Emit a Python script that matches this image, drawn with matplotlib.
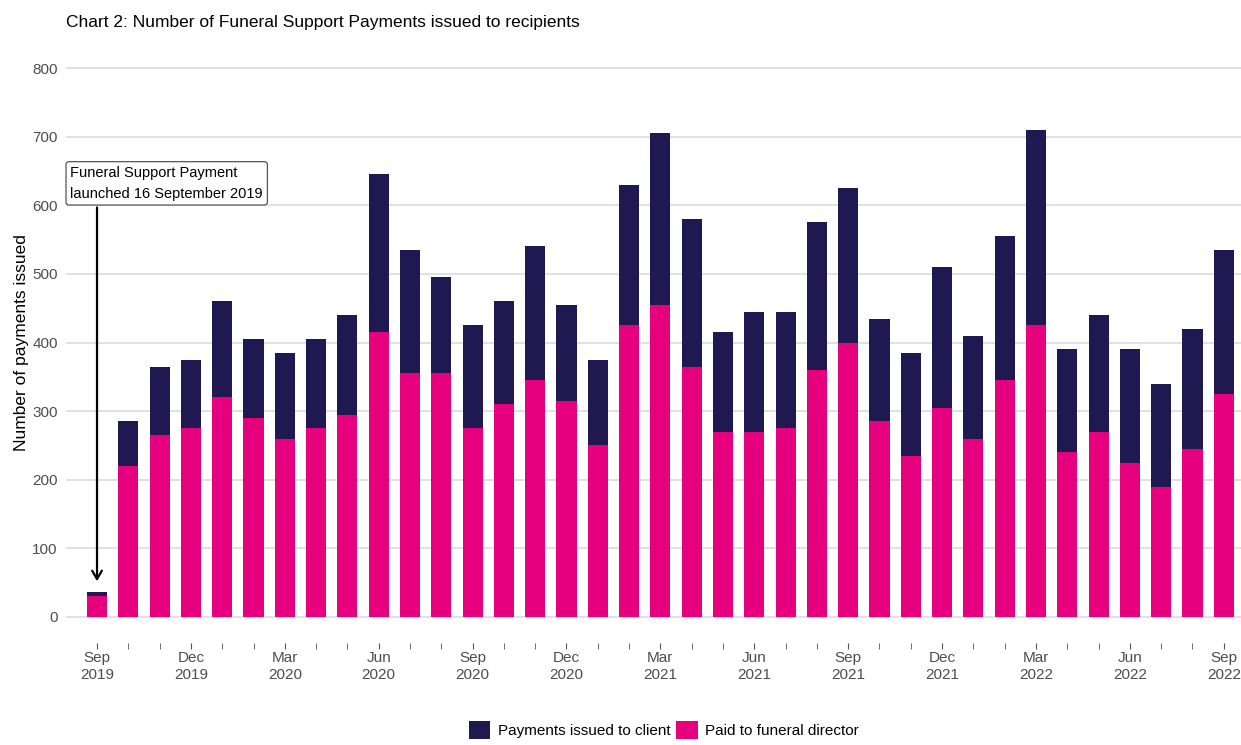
import matplotlib
matplotlib.use("Agg")
import matplotlib.pyplot as plt
import numpy as np

plt.rcParams['font.family'] = ['Liberation Sans', 'DejaVu Sans']

# monthly data, Sep 2019 .. Sep 2022
months = ["Sep 2019", "Oct 2019", "Nov 2019", "Dec 2019", "Jan 2020", "Feb 2020",
          "Mar 2020", "Apr 2020", "May 2020", "Jun 2020", "Jul 2020", "Aug 2020",
          "Sep 2020", "Oct 2020", "Nov 2020", "Dec 2020", "Jan 2021", "Feb 2021",
          "Mar 2021", "Apr 2021", "May 2021", "Jun 2021", "Jul 2021", "Aug 2021",
          "Sep 2021", "Oct 2021", "Nov 2021", "Dec 2021", "Jan 2022", "Feb 2022",
          "Mar 2022", "Apr 2022", "May 2022", "Jun 2022", "Jul 2022", "Aug 2022",
          "Sep 2022"]
funeral_director = [31, 220, 265, 275, 320, 290, 260, 275, 295, 415, 355, 355,
                    275, 310, 345, 315, 250, 425, 455, 365, 270, 270, 275, 360,
                    400, 285, 235, 305, 260, 345, 425, 240, 270, 225, 190, 245, 325]
total = [36, 285, 365, 375, 460, 405, 385, 405, 440, 645, 535, 495,
         425, 460, 540, 455, 375, 630, 705, 580, 415, 445, 445, 575,
         625, 435, 385, 510, 410, 555, 710, 390, 440, 390, 340, 420, 535]
client = [t - f for t, f in zip(total, funeral_director)]

navy = "#201850"
pink = "#E6007E"

fig = plt.figure(figsize=(12.41, 7.45), dpi=100)
ax = fig.add_axes([0.0532, 0.1369, 0.9468, 0.8067])

x = np.arange(len(months))
ax.bar(x, funeral_director, width=0.64, color=pink, label="Paid to funeral director", zorder=3)
ax.bar(x, client, width=0.64, bottom=funeral_director, color=navy,
       label="Payments issued to client", zorder=3)

ax.set_ylim(-38, 838)
ax.set_xlim(-0.99, 36.55)
ax.set_yticks(range(0, 801, 100))
ax.yaxis.grid(True, color="#D9D9D9", linewidth=1.1, zorder=0)
ax.set_axisbelow(True)
for s in ax.spines.values():
    s.set_visible(False)

major = list(range(0, len(months), 3))
ax.set_xticks(major)
ax.set_xticklabels([months[i].replace(" ", "\n") for i in major])
ax.set_xticks(x, minor=True)
ax.tick_params(axis="x", which="both", length=4, color="#555555", labelsize=11,
               labelcolor="#4D4D4D", pad=2)
ax.tick_params(axis="y", length=0, labelsize=11, labelcolor="#4D4D4D", pad=6)
ax.set_ylabel("Number of payments issued", fontsize=12.5, labelpad=2)

ax.text(-0.85, 632, "Funeral Support Payment\nlaunched 16 September 2019", fontsize=10.5,
        ha="left", va="center", linespacing=1.6,
        bbox=dict(boxstyle="round,pad=0.3,rounding_size=0.2", fc="white", ec="#555555", lw=0.9),
        zorder=5)
ax.annotate("", xy=(0, 48), xytext=(0, 601),
            arrowprops=dict(arrowstyle="->,head_length=0.6,head_width=0.35", color="black", lw=1.6),
            zorder=4)

fig.text(0.0532, 0.97, "Chart 2: Number of Funeral Support Payments issued to recipients",
         fontsize=12.5, ha="left", va="center")

h, l = ax.get_legend_handles_labels()
fig.legend(h[::-1], l[::-1], loc="center", bbox_to_anchor=(0.535, 0.02), ncol=2, frameon=False,
           fontsize=11, handlelength=1.4, handleheight=1.4, columnspacing=0.4, handletextpad=0.5,
           borderpad=0.1)

fig.savefig("out.png", dpi=100)
